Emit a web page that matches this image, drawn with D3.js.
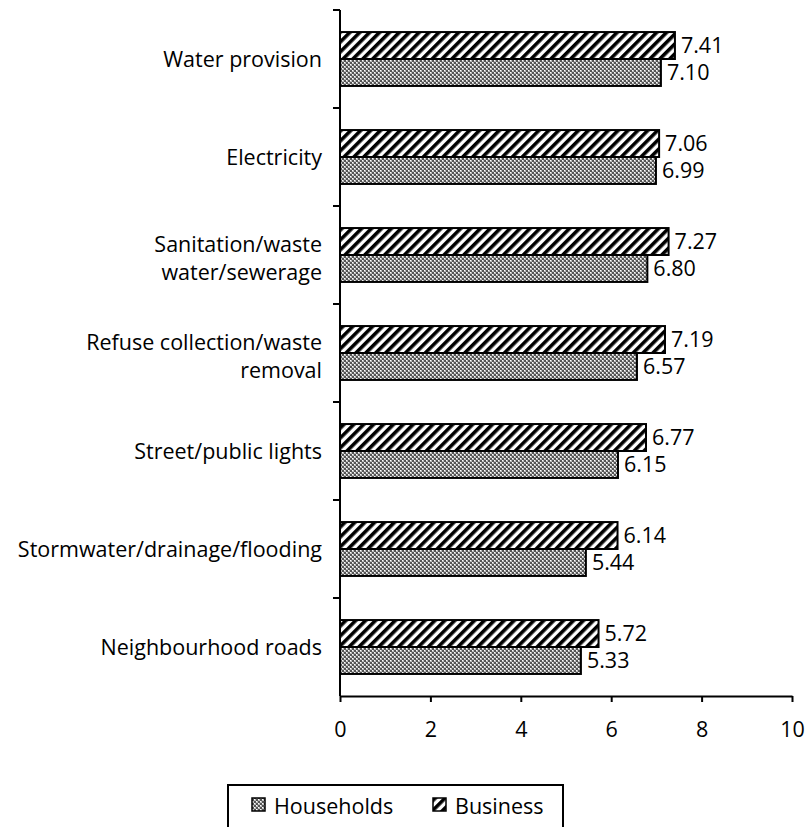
<!DOCTYPE html>
<html>
<head>
<script src="https://d3js.org/d3.v7.min.js"></script>
<style>
  body { margin: 0; background: #fff; }
  svg text { font-family: "Open Sans", Lato, sans-serif; fill: #000; }
</style>
</head>
<body>
<div id="container"></div>
<script>
// data (top to bottom)
const categories = ["Water provision", "Electricity", "Sanitation/waste\nwater/sewerage",
  "Refuse collection/waste\nremoval", "Street/public lights",
  "Stormwater/drainage/flooding", "Neighbourhood roads"];
const households = [7.10, 6.99, 6.80, 6.57, 6.15, 5.44, 5.33];
const business = [7.41, 7.06, 7.27, 7.19, 6.77, 6.14, 5.72];
const xTicks = [0, 2, 4, 6, 8, 10];

const W = 808, H = 827;
const margin = {top: 10, right: 16, bottom: 131, left: 340};
const width = W - margin.left - margin.right;
const height = H - margin.top - margin.bottom;
const fs = "21.5px";

const svg = d3.select("#container").append("svg")
  .attr("width", W).attr("height", H);

// fill patterns
const defs = svg.append("defs");
const dots = defs.append("pattern").attr("id", "dots")
  .attr("patternUnits", "userSpaceOnUse").attr("width", 4).attr("height", 4);
dots.append("rect").attr("width", 4).attr("height", 4).attr("fill", "#555");
dots.append("rect").attr("x", 0).attr("y", 0).attr("width", 2).attr("height", 2).attr("fill", "#bbb");
dots.append("rect").attr("x", 2).attr("y", 2).attr("width", 2).attr("height", 2).attr("fill", "#bbb");
dots.append("rect").attr("x", 0).attr("y", 0).attr("width", 1).attr("height", 1).attr("fill", "#fff");
dots.append("rect").attr("x", 2).attr("y", 2).attr("width", 1).attr("height", 1).attr("fill", "#fff");

const stripes = defs.append("pattern").attr("id", "stripes")
  .attr("patternUnits", "userSpaceOnUse").attr("width", 7).attr("height", 7)
  .attr("patternTransform", "rotate(45)");
stripes.append("rect").attr("width", 7).attr("height", 7).attr("fill", "#fff");
stripes.append("rect").attr("width", 3.6).attr("height", 7).attr("fill", "#000");

const g = svg.append("g").attr("transform", `translate(${margin.left},${margin.top})`);

const x = d3.scaleLinear().domain([0, 10]).range([0, width]);
const y = d3.scaleBand().domain(categories).range([0, height]).paddingInner(0.45).paddingOuter(0.225);
const yb = d3.scaleBand().domain(["business", "households"]).range([0, y.bandwidth()]);

const series = [
  {key: "business", values: business, fill: "url(#stripes)"},
  {key: "households", values: households, fill: "url(#dots)"}
];

series.forEach(s => {
  g.selectAll(null).data(categories).join("rect")
    .attr("x", x(0))
    .attr("y", (d) => y(d) + yb(s.key))
    .attr("width", (d, i) => x(s.values[i]))
    .attr("height", yb.bandwidth())
    .attr("fill", s.fill)
    .attr("stroke", "#000").attr("stroke-width", 2);

  g.selectAll(null).data(categories).join("text")
    .attr("x", (d, i) => x(s.values[i]) + 6)
    .attr("y", (d) => y(d) + yb(s.key) + yb.bandwidth() / 2)
    .attr("dy", "0.35em")
    .style("font-size", fs)
    .text((d, i) => s.values[i].toFixed(2));
});

// x axis
const xAxis = g.append("g").attr("transform", `translate(0,${height})`)
  .call(d3.axisBottom(x).tickValues(xTicks).tickSize(6).tickSizeOuter(0).tickPadding(20));
xAxis.selectAll("text").style("font-size", fs).style("font-family", "'Open Sans', sans-serif");
xAxis.selectAll("line, path").attr("stroke", "#000").attr("stroke-width", 2);

// y axis: ticks between categories
const yAx = g.append("g");
yAx.append("line").attr("x1", 0).attr("x2", 0).attr("y1", 0).attr("y2", height)
  .attr("stroke", "#000").attr("stroke-width", 2);
const step = height / categories.length;
yAx.selectAll("line.tk").data(d3.range(categories.length)).join("line")
  .attr("class", "tk")
  .attr("x1", -7).attr("x2", 0)
  .attr("y1", d => d * step).attr("y2", d => d * step)
  .attr("stroke", "#000").attr("stroke-width", 2);

// category labels
categories.forEach(c => {
  const lines = c.split("\n");
  const cy = y(c) + y.bandwidth() / 2 + (lines.length > 1 ? 3 : 0);
  const t = g.append("text").attr("text-anchor", "end").style("font-size", fs);
  lines.forEach((ln, i) => {
    t.append("tspan").attr("x", -18)
      .attr("y", cy + (i - (lines.length - 1) / 2) * 28)
      .attr("dy", "0.35em").text(ln);
  });
});

// legend
const lg = svg.append("g").attr("transform", "translate(228,785)");
lg.append("rect").attr("width", 335).attr("height", 60)
  .attr("fill", "#fff").attr("stroke", "#000").attr("stroke-width", 2);
const items = [{name: "Households", fill: "url(#dots)", x: 24}, {name: "Business", fill: "url(#stripes)", x: 205}];
items.forEach(it => {
  lg.append("rect").attr("x", it.x).attr("y", 13).attr("width", 13).attr("height", 13)
    .attr("fill", it.fill).attr("stroke", "#000").attr("stroke-width", 1.5);
  lg.append("text").attr("x", it.x + 22).attr("y", 21).attr("dy", "0.35em")
    .style("font-size", fs).text(it.name);
});
</script>
</body>
</html>
